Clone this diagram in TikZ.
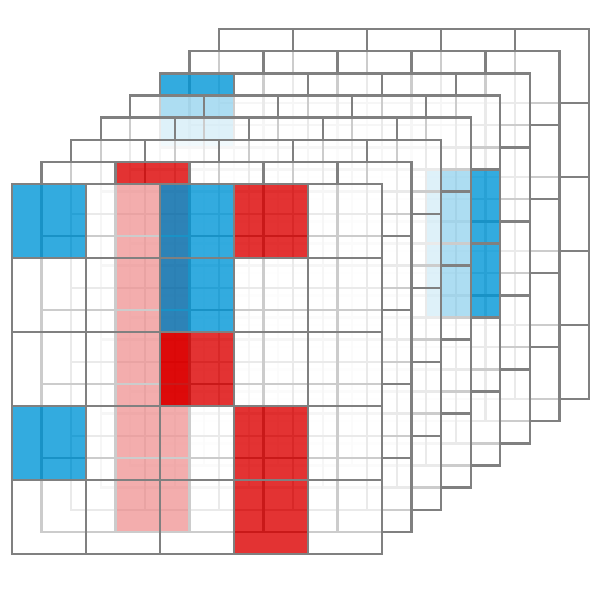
\documentclass[tikz,border=0pt]{standalone}
\definecolor{cred}{RGB}{220,0,0}
\definecolor{cblue}{RGB}{0,151,216}
\definecolor{lgray}{RGB}{128,128,128}
\tikzset{
  whitecell/.style={fill=white, fill opacity=0.6},
  redcell/.style={fill=cred, fill opacity=0.8},
  bluecell/.style={fill=cblue, fill opacity=0.8},
  gridline/.style={draw=lgray, line width=2.4pt, line cap=rect, line join=miter}
}
\newcommand\setcell[4]{\expandafter\def\csname ck-#1-#2-#3\endcsname{#4}}
\newcommand\cellkind[3]{\ifcsname ck-#1-#2-#3\endcsname\csname ck-#1-#2-#3\endcsname\else whitecell\fi}
% layer 0 (front)
\setcell{0}{0}{0}{bluecell}
\setcell{0}{2}{0}{bluecell}
\setcell{0}{2}{1}{bluecell}
\setcell{0}{0}{3}{bluecell}
\setcell{0}{3}{0}{redcell}
\setcell{0}{2}{2}{redcell}
\setcell{0}{3}{3}{redcell}
\setcell{0}{3}{4}{redcell}
% layer 1
\setcell{1}{1}{0}{redcell}
\setcell{1}{1}{1}{redcell}
\setcell{1}{1}{2}{redcell}
\setcell{1}{1}{3}{redcell}
\setcell{1}{1}{4}{redcell}
% layer 4
\setcell{4}{4}{1}{bluecell}
\setcell{4}{4}{2}{bluecell}
% layer 5
\setcell{5}{0}{0}{bluecell}
\begin{document}
\begin{tikzpicture}[x=1pt,y=-1pt]
\fill[white] (0,0) rectangle (600,600);
\useasboundingbox (0,0) rectangle (600,600);
\foreach \k in {7,6,...,0}{
  \begin{scope}[shift={({12+29.57*\k},{184-22.14*\k})}]
    \foreach \c in {0,...,4}{
      \foreach \r in {0,...,4}{
        \edef\st{\cellkind{\k}{\c}{\r}}
        \edef\tmp{\noexpand\fill[\st] (\c*74,\r*74) rectangle ++(74,74);}
        \tmp
      }
    }
    \foreach \i in {1,...,4}{
      \draw[gridline] (\i*74,0) -- (\i*74,370);
      \draw[gridline] (0,\i*74) -- (370,\i*74);
    }
    \draw[gridline] (0,0) rectangle (370,370);
  \end{scope}
}
\end{tikzpicture}
\end{document}
